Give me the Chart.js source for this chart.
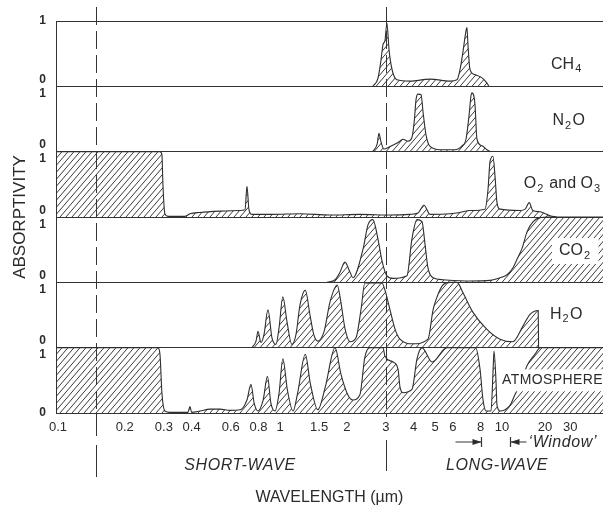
<!DOCTYPE html>
<html>
<head>
<meta charset="utf-8">
<script src="https://cdn.jsdelivr.net/npm/chart.js@4.4.1/dist/chart.umd.min.js"></script>
<style>
html,body{margin:0;padding:0;background:#fff;overflow:hidden}
#wrap{width:603px;height:510px;position:relative}
canvas{display:block}
</style>
</head>
<body>
<div id="wrap"><canvas id="c" width="603" height="510"></canvas></div>
<script>
// ---------------- DATA ----------------
const xTickValues = [0.1, 0.2, 0.3, 0.4, 0.6, 0.8, 1, 1.5, 2, 3, 4, 5, 6, 8, 10, 20, 30];
const xTickLabels = ['0.1', '0.2', '0.3', '0.4', '0.6', '0.8', '1', '1.5', '2', '3', '4', '5', '6', '8', '10', '20', '30'];
const xMinWavelength = 0.098;
const xMaxWavelength = 50.8;
const dividerWavelengths = [0.148, 3.0];       // dashed vertical dividers
const windowLimits = [8, 11.3];                 // atmospheric 'window' arrows

const panelNames = ['CH4', 'N2O', 'O2 and O3', 'CO2', 'H2O', 'ATMOSPHERE'];

const ch4Wavelength   = [2.62, 2.76, 2.85, 2.91, 2.97, 3.03, 3.10, 3.20, 3.36, 3.85, 4.74, 5.83, 6.27, 6.47, 6.67, 6.88, 6.95, 7.02, 7.17, 7.55, 8.13, 8.55, 8.73];
const ch4Absorptivity = [0, 0.12, 0.4, 0.64, 0.7, 0.97, 0.55, 0.25, 0.1, 0.08, 0.11, 0.08, 0.1, 0.26, 0.53, 0.85, 0.9, 0.65, 0.26, 0.18, 0.13, 0.05, 0];

const n2oWavelength   = [2.62, 2.74, 2.79, 2.85, 2.94, 3.13, 3.40, 3.58, 3.77, 3.93, 4.02, 4.10, 4.18, 4.32, 4.41, 4.55, 4.74, 5.26, 6.14, 6.60, 6.88, 7.10, 7.25, 7.32, 7.55, 7.71, 8.13, 8.55, 8.83];
const n2oAbsorptivity = [0, 0.12, 0.28, 0.15, 0.04, 0.08, 0.14, 0.19, 0.16, 0.22, 0.45, 0.8, 0.88, 0.87, 0.6, 0.25, 0.08, 0.03, 0.03, 0.09, 0.19, 0.55, 0.86, 0.9, 0.73, 0.19, 0.09, 0.03, 0];

const o3Wavelength    = [0.098, 0.288, 0.294, 0.297, 0.303, 0.313, 0.373, 0.393, 0.436, 0.537, 0.661, 0.696, 0.710, 0.725, 0.748, 0.92, 1.23, 1.68, 2.29, 3.13, 3.85, 4.18, 4.45, 4.74, 5.83, 6.47, 7.17, 8.38, 8.64, 8.83, 9.10, 9.30, 9.49, 9.79, 13.4, 14.5, 15.5, 16.4, 18.5, 21.7, 24];
const o3Absorptivity  = [1, 1, 0.95, 0.5, 0.05, 0.01, 0.01, 0.05, 0.07, 0.09, 0.1, 0.11, 0.47, 0.11, 0.04, 0.04, 0.05, 0.03, 0.04, 0.03, 0.04, 0.06, 0.18, 0.04, 0.05, 0.07, 0.1, 0.12, 0.41, 0.85, 0.93, 0.62, 0.22, 0.12, 0.1, 0.12, 0.22, 0.1, 0.08, 0.02, 0];

const co2Wavelength   = [1.63, 1.77, 1.86, 1.96, 2.07, 2.13, 2.37, 2.49, 2.62, 2.76, 2.88, 3.03, 3.23, 3.73, 3.93, 4.14, 4.36, 4.50, 4.64, 4.89, 5.42, 7.17, 8.83, 9.79, 10.9, 11.9, 12.9, 13.8, 15.0, 16.5, 18.5, 21.0, 50.8];
const co2Absorptivity = [0, 0.04, 0.15, 0.31, 0.15, 0.07, 0.52, 0.88, 0.96, 0.67, 0.33, 0.1, 0.06, 0.1, 0.67, 0.96, 0.93, 0.58, 0.22, 0.07, 0.04, 0.02, 0.03, 0.07, 0.12, 0.22, 0.38, 0.52, 0.78, 0.93, 0.99, 1, 1];

const h2oWavelength   = [0.748, 0.78, 0.796, 0.821, 0.847, 0.883, 0.92, 0.959, 0.99, 1.03, 1.075, 1.13, 1.18, 1.23, 1.30, 1.365, 1.42, 1.48, 1.58, 1.68, 1.81, 1.88, 1.96, 2.07, 2.20, 2.32, 2.41, 2.88, 2.97, 3.13, 3.30, 3.47, 3.97, 4.64, 4.89, 5.10, 5.42, 5.83, 6.27, 6.67, 7.40, 8.55, 9.79, 11.9, 14.0, 15.7, 17.9, 18.0];
const h2oAbsorptivity = [0, 0.1, 0.25, 0.08, 0.2, 0.58, 0.15, 0.05, 0.3, 0.78, 0.4, 0.05, 0.2, 0.65, 0.88, 0.5, 0.2, 0.1, 0.25, 0.7, 0.96, 0.7, 0.3, 0.09, 0.15, 0.6, 0.99, 0.99, 0.88, 0.58, 0.28, 0.13, 0.06, 0.13, 0.58, 0.78, 0.96, 1.0, 1.0, 0.84, 0.54, 0.28, 0.13, 0.09, 0.33, 0.51, 0.57, 0];

const atmWavelength   = [0.098, 0.282, 0.288, 0.294, 0.303, 0.32, 0.385, 0.393, 0.40, 0.436, 0.484, 0.537, 0.595, 0.661, 0.71, 0.74, 0.765, 0.796, 0.84, 0.878, 0.91, 0.95, 0.99, 1.03, 1.08, 1.145, 1.2, 1.30, 1.37, 1.48, 1.6, 1.77, 1.88, 2.02, 2.13, 2.29, 2.41, 2.54, 2.91, 2.97, 3.23, 3.40, 3.47, 3.58, 3.93, 4.14, 4.36, 4.84, 5.65, 7.6, 7.96, 8.21, 8.47, 8.92, 9.10, 9.20, 9.39, 9.49, 9.79, 10.5, 11.4, 12.3, 13.4, 15.0, 17.0, 18.5, 50.8];
const atmAbsorptivity = [1, 1, 0.9, 0.3, 0.03, 0.01, 0.01, 0.1, 0.01, 0.03, 0.06, 0.06, 0.04, 0.05, 0.2, 0.44, 0.15, 0.03, 0.2, 0.56, 0.15, 0.03, 0.3, 0.83, 0.35, 0.03, 0.3, 0.9, 0.45, 0.05, 0.4, 1.0, 0.6, 0.28, 0.2, 0.28, 0.85, 1.0, 1.0, 0.87, 0.78, 0.67, 0.4, 0.31, 0.36, 0.83, 1.0, 0.78, 1.0, 1.0, 0.67, 0.2, 0.03, 0.03, 0.6, 0.95, 0.5, 0.12, 0.03, 0.05, 0.12, 0.28, 0.44, 0.73, 0.9, 1.0, 1.0];

// ---------------- presentation ----------------
const FONT = "'Liberation Sans', Arial, Helvetica, sans-serif";
const INK = '#2b2b2b';
Chart.defaults.font.family = FONT;
Chart.defaults.color = INK;

// wavelength axis: logarithmic up to 10 um, compressed logarithmic beyond
const KNEE = 10, LONG_COMPRESS = 143 / 222;
function axisPos(wl) {
  return wl <= KNEE ? Math.log10(wl) : 1 + Math.log10(wl / KNEE) * LONG_COMPRESS;
}

const series = [
  [ch4Wavelength, ch4Absorptivity],
  [n2oWavelength, n2oAbsorptivity],
  [o3Wavelength, o3Absorptivity],
  [co2Wavelength, co2Absorptivity],
  [h2oWavelength, h2oAbsorptivity],
  [atmWavelength, atmAbsorptivity]
];
const N = series.length;

const labelParts = [
  [['CH', 0], ['4', 1]],
  [['N', 0], ['2', 1], ['O', 0]],
  [['O', 0], ['2', 1], [' and O', 0], ['3', 1]],
  [['CO', 0], ['2', 1]],
  [['H', 0], ['2', 1], ['O', 0]],
  [['ATMOSPHERE', 0]]
];
const labelAnchor = [[22.0, 0.34], [22.5, 0.47], [14.2, 0.51], [25.0, 0.48], [21.6, 0.51], [10.0, 0.5]];

const canvas = document.getElementById('c');
const ctx = canvas.getContext('2d');

// hatch pattern
const pc = document.createElement('canvas');
pc.width = 6; pc.height = 7;
const pctx = pc.getContext('2d');
pctx.strokeStyle = '#2e2e2e';
pctx.lineWidth = 0.95;
pctx.beginPath();
pctx.moveTo(0, 7); pctx.lineTo(6, 0);
pctx.moveTo(-1, 1.17); pctx.lineTo(1, -1.17);
pctx.moveTo(5, 8.17); pctx.lineTo(7, 5.83);
pctx.stroke();
const hatch = ctx.createPattern(pc, 'repeat');

const datasets = series.map(([wl, ab], i) => {
  const base = N - 1 - i;
  return {
    label: panelNames[i],
    data: wl.map((w, j) => ({ x: axisPos(w), y: base + ab[j] })),
    fill: { value: base },
    backgroundColor: hatch,
    borderColor: '#2e2e2e',
    borderWidth: 1.1,
    pointRadius: 0,
    cubicInterpolationMode: 'monotone'
  };
});

// y ticks: boundary lines at integers, "0"/"1" labels just above/below
const yTickValues = [0];
for (let k = 1; k < N; k++) yTickValues.push(k - 0.115, k, k + 0.1);
yTickValues.push(N);

function measureRich(c, parts, size) {
  let w = 0;
  for (const [t, sub] of parts) {
    const s = sub ? Math.round(size * 0.66) : size;
    c.font = s + 'px ' + FONT;
    w += c.measureText(t).width + (sub ? 1.5 : 1);
  }
  return w;
}
function drawRich(c, parts, x, y, size) {
  let cx = x;
  for (const [t, sub] of parts) {
    const s = sub ? Math.round(size * 0.66) : size;
    c.font = s + 'px ' + FONT;
    c.fillText(t, cx, y + (sub ? size * 0.32 : 0));
    cx += c.measureText(t).width + (sub ? 1.5 : 1);
  }
}

const annotate = {
  id: 'annotate',
  afterDatasetsDraw(chart) {
    const c = chart.ctx;
    const xs = chart.scales.x, ys = chart.scales.y;
    const area = chart.chartArea;
    c.save();
    c.fillStyle = INK;
    c.strokeStyle = '#353535';
    c.textBaseline = 'middle';

    // panel labels
    labelParts.forEach((parts, i) => {
      const base = N - 1 - i;
      const [wl, frac] = labelAnchor[i];
      const px = xs.getPixelForValue(axisPos(wl));
      const py = ys.getPixelForValue(base + frac);
      const size = i === 5 ? 14 : 16;
      c.letterSpacing = i === 5 ? '0.4px' : '0px';
      const w = measureRich(c, parts, size);
      if (i === 3 || i === 5) {
        c.fillStyle = '#fff';
        if (i === 3) c.fillRect(px - 7, py - 13, w + 14, 26);
        else c.fillRect(px - 3, py - 11, area.right - px + 3, 22);
        c.fillStyle = INK;
      }
      drawRich(c, parts, px, py, size);
    });
    c.letterSpacing = '0px';

    // dashed dividers
    c.lineWidth = 1;
    dividerWavelengths.forEach((wl, i) => {
      const px = Math.round(xs.getPixelForValue(axisPos(wl))) + 0.5;
      c.setLineDash([18, 6]);
      c.beginPath(); c.moveTo(px, 7); c.lineTo(px, area.bottom); c.stroke();
      c.setLineDash([]);
      c.beginPath();
      if (i === 0) { c.moveTo(px, area.bottom); c.lineTo(px, area.bottom + 23); c.moveTo(px, area.bottom + 32); c.lineTo(px, area.bottom + 64); }
      else { c.moveTo(px, area.bottom); c.lineTo(px, area.bottom + 4); c.moveTo(px, area.bottom + 27); c.lineTo(px, area.bottom + 58); }
      c.stroke();
    });

    // window arrows
    const wy = area.bottom + 29;
    const w1 = Math.round(xs.getPixelForValue(axisPos(windowLimits[0]))) + 0.5;
    const w2 = Math.round(xs.getPixelForValue(axisPos(windowLimits[1]))) + 0.5;
    c.lineWidth = 1.2;
    c.beginPath();
    c.moveTo(w1 - 26, wy); c.lineTo(w1, wy);
    c.moveTo(w1, wy - 5); c.lineTo(w1, wy + 5);
    c.moveTo(w2, wy - 5); c.lineTo(w2, wy + 5);
    c.moveTo(w2, wy); c.lineTo(w2 + 16, wy);
    c.stroke();
    c.beginPath();
    c.moveTo(w1, wy); c.lineTo(w1 - 9, wy - 3); c.lineTo(w1 - 9, wy + 3); c.closePath();
    c.moveTo(w2, wy); c.lineTo(w2 + 9, wy - 3); c.lineTo(w2 + 9, wy + 3); c.closePath();
    c.fill();
    c.font = 'italic 16px ' + FONT;
    c.textAlign = 'left';
    c.letterSpacing = '0.6px';
    c.fillText('\u2018Window\u2019', w2 + 18, wy + 1);

    // short-wave / long-wave
    c.textAlign = 'center';
    c.fillText('SHORT-WAVE', 240, area.bottom + 53);
    c.fillText('LONG-WAVE', 497, area.bottom + 53);
    c.restore();
  }
};

new Chart(ctx, {
  type: 'line',
  data: { datasets },
  options: {
    responsive: false,
    animation: false,
    devicePixelRatio: 1,
    layout: { padding: { top: 21, left: 0, right: 0, bottom: 0 } },
    plugins: { legend: { display: false }, tooltip: { enabled: false } },
    scales: {
      x: {
        type: 'linear',
        min: axisPos(xMinWavelength),
        max: axisPos(xMaxWavelength),
        afterBuildTicks: s => { s.ticks = xTickValues.map(v => ({ value: axisPos(v) })); },
        afterFit: s => { s.height = 97; },
        grid: { display: false },
        border: { display: true, color: '#333', width: 1 },
        ticks: {
          autoSkip: false, maxRotation: 0, minRotation: 0, padding: -1,
          font: { size: 13 }, color: INK,
          callback: (v, i) => xTickLabels[i]
        },
        title: { display: true, text: 'WAVELENGTH (\u00b5m)', font: { size: 16 }, color: INK, padding: { top: 0, bottom: 3 } }
      },
      y: {
        type: 'linear',
        min: 0, max: N,
        afterBuildTicks: s => { s.ticks = yTickValues.map(v => ({ value: v })); },
        afterFit: s => { s.width = 56; },
        grid: {
          drawTicks: false,
          color: c => (c.tick && Math.abs(c.tick.value - Math.round(c.tick.value)) < 1e-9) ? '#333' : 'rgba(0,0,0,0)',
          lineWidth: 1
        },
        border: { display: true, color: '#333', width: 1 },
        ticks: {
          autoSkip: false, padding: 10,
          font: { size: 12, weight: 'bold' }, color: INK,
          callback: v => {
            if (Math.abs(v) < 1e-9) return '0';
            if (Math.abs(v - N) < 1e-9) return '1';
            const f = v - Math.floor(v);
            if (f < 1e-9 || f > 1 - 1e-9) return '';
            return f > 0.5 ? '1' : '0';
          }
        },
        title: { display: true, text: 'ABSORPTIVITY', font: { size: 17 }, color: INK, padding: { top: 10, bottom: 0 } }
      }
    }
  },
  plugins: [annotate]
});
</script>
</body>
</html>
